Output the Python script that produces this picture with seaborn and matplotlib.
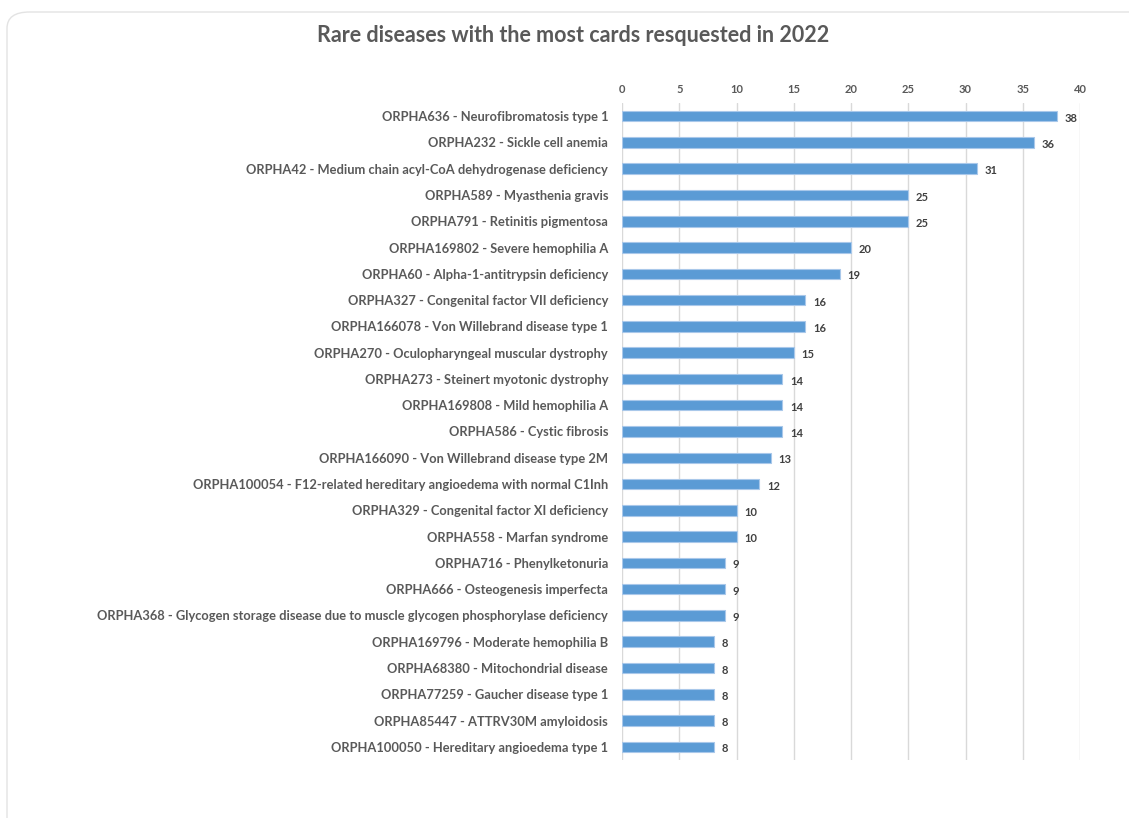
import matplotlib
matplotlib.use("Agg")
import matplotlib.pyplot as plt
import seaborn as sns
import pandas as pd
from matplotlib.patches import FancyBboxPatch

diseases = [
    "ORPHA636 - Neurofibromatosis type 1",
    "ORPHA232 - Sickle cell anemia",
    "ORPHA42 - Medium chain acyl-CoA dehydrogenase deficiency",
    "ORPHA589 - Myasthenia gravis",
    "ORPHA791 - Retinitis pigmentosa",
    "ORPHA169802 - Severe hemophilia A",
    "ORPHA60 - Alpha-1-antitrypsin deficiency",
    "ORPHA327 - Congenital factor VII deficiency",
    "ORPHA166078 - Von Willebrand disease type 1",
    "ORPHA270 - Oculopharyngeal muscular dystrophy",
    "ORPHA273 - Steinert myotonic dystrophy",
    "ORPHA169808 - Mild hemophilia A",
    "ORPHA586 - Cystic fibrosis",
    "ORPHA166090 - Von Willebrand disease type 2M",
    "ORPHA100054 - F12-related hereditary angioedema with normal C1Inh",
    "ORPHA329 - Congenital factor XI deficiency",
    "ORPHA558 - Marfan syndrome",
    "ORPHA716 - Phenylketonuria",
    "ORPHA666 - Osteogenesis imperfecta",
    "ORPHA368 - Glycogen storage disease due to muscle glycogen phosphorylase deficiency",
    "ORPHA169796 - Moderate hemophilia B",
    "ORPHA68380 - Mitochondrial disease",
    "ORPHA77259 - Gaucher disease type 1",
    "ORPHA85447 - ATTRV30M amyloidosis",
    "ORPHA100050 - Hereditary angioedema type 1",
]
cards = [38, 36, 31, 25, 25, 20, 19, 16, 16, 15, 14, 14, 14, 13, 12, 10, 10, 9, 9, 9, 8, 8, 8, 8, 8]
x_ticks = [0, 5, 10, 15, 20, 25, 30, 35, 40]
title = "Rare diseases with the most cards resquested in 2022"

df = pd.DataFrame({"disease": diseases, "cards": cards})

sns.set_theme(style="white")
plt.rcParams["font.family"] = ["Lato", "DejaVu Sans"]

fig = plt.figure(figsize=(11.29, 8.18), dpi=100)
fig.patch.set_facecolor("white")

# card border
card = FancyBboxPatch((7 / 1129, -0.1), 1.2, 1 - 12 / 818 + 0.1,
                      boxstyle="round,pad=0,rounding_size=0.02",
                      transform=fig.transFigure, facecolor="white",
                      edgecolor="#E3E3E3", linewidth=1.0, zorder=-10)
fig.patches.append(card)

ax = fig.add_axes([622 / 1129, 1 - 760 / 818, 458 / 1129, 657 / 818])
ax.set_zorder(5)
ax.set_facecolor("none")

sns.barplot(data=df, x="cards", y="disease", orient="h", color="#5B9BD5",
            width=0.4, edgecolor="#A9C8EA", linewidth=0.8, saturation=1,
            ax=ax, zorder=3)

ax.set_xlim(0, 40)
ax.set_ylim(len(diseases) - 0.5, -0.5)
ax.set_xticks(x_ticks)
ax.xaxis.tick_top()
ax.tick_params(axis="x", length=0, pad=6, labelsize=8, labelcolor="#595959")
ax.tick_params(axis="y", length=0, pad=10, labelsize=9.3, labelcolor="#595959")
for lab in ax.get_yticklabels():
    lab.set_fontweight("bold")
for lab in ax.get_xticklabels():
    lab.set_fontweight("bold")
ax.grid(axis="x", color="#D9D9D9", linewidth=1.0, zorder=0)
ax.grid(axis="y", visible=False)
for s in ax.spines.values():
    s.set_visible(False)
ax.set_xlabel("")
ax.set_ylabel("")

for i, v in enumerate(cards):
    ax.annotate(str(v), (v, i), xytext=(5.5, -1.5), textcoords="offset points",
                ha="left", va="center", fontsize=8, fontweight="bold",
                color="#404040")

fig.text(573 / 1129, 1 - 35 / 818, title, ha="center", va="center",
         fontsize=15.5, fontweight="bold", color="#595959")

fig.savefig("out.png", dpi=100, facecolor="white")
